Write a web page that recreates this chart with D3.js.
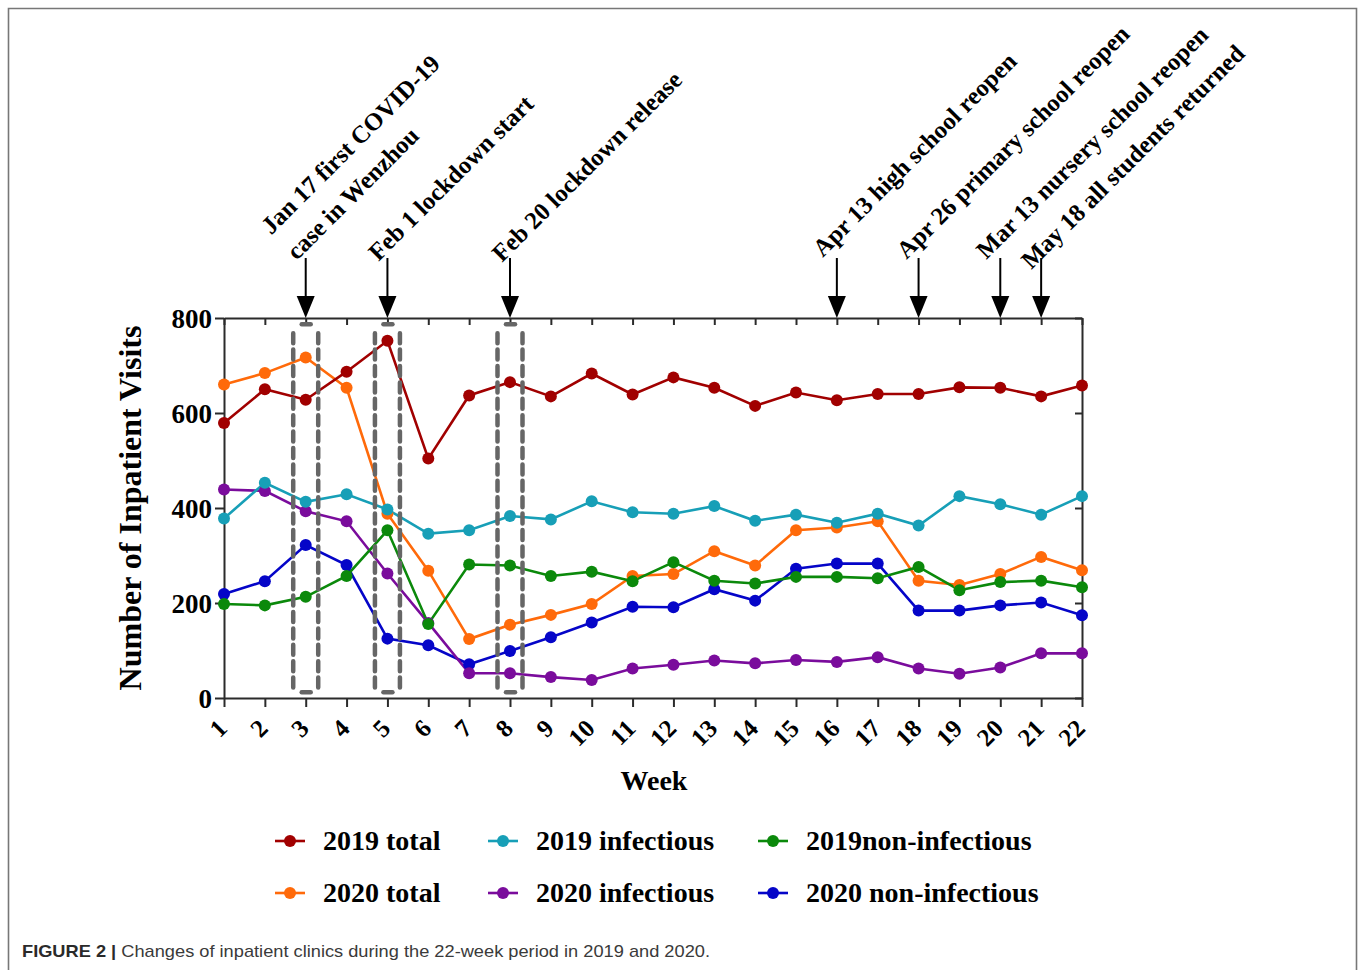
<!DOCTYPE html>
<html>
<head>
<meta charset="utf-8">
<script src="https://cdn.jsdelivr.net/npm/d3@7"></script>
<style>
body { margin: 0; background: #fff; }
svg { display: block; }
</style>
</head>
<body>
<div id="chart"></div>
<script>
// weeks on the x axis
const weeks = [1,2,3,4,5,6,7,8,9,10,11,12,13,14,15,16,17,18,19,20,21,22]
const yTicks = [0, 200, 400, 600, 800]

// inpatient visits per week
const total2019 = [579,650,628,687,752,504,637,665,635,683,639,675,653,615,643,627,640,640,654,653,635,658]
const infectious2019 = [378,453,413,429,397,346,353,383,376,414,391,388,404,373,386,369,388,363,425,408,386,425]
const nonInfectious2019 = [198,195,213,257,353,156,281,279,257,266,246,286,247,241,255,255,252,276,227,244,247,233]
const total2020 = [660,684,717,653,388,268,124,154,175,198,257,261,309,279,353,359,372,247,238,261,297,269]
const infectious2020 = [439,436,393,372,262,158,52,52,44,38,62,70,79,73,80,76,86,62,51,64,94,94]
const nonInfectious2020 = [219,246,322,280,125,111,71,99,128,159,192,191,229,205,272,283,283,184,184,195,201,174]

const seriesNames = ["2019 total", "2019 infectious", "2019non-infectious",
                     "2020 total", "2020 infectious", "2020 non-infectious"]
const seriesValues = [total2019, infectious2019, nonInfectious2019,
                      total2020, infectious2020, nonInfectious2020]
const color = ["#a10000", "#179fb7", "#0b890b", "#ff6a0a", "#7a0c9c", "#0505c8"]

// event markers
const eventWeeks = [3, 5, 8, 16, 18, 20, 21]
const eventLabels = [
  ["Jan 17 first COVID-19", "case in Wenzhou"],
  ["Feb 1 lockdown start"],
  ["Feb 20 lockdown release"],
  ["Apr 13 high school reopen"],
  ["Apr 26 primary school reopen"],
  ["Mar 13 nursery school reopen"],
  ["May 18 all students returned"]
]
// dashed boxes around these weeks
const boxWeeks = [3, 5, 8]
const boxRange = [12, 787]

const width = 1360, height = 970
const serif = "'Liberation Serif', 'Times New Roman', serif"
const axisColor = "#2b2b2b"

const x = d3.scaleLinear().domain([1, 22]).range([224, 1082])
const y = d3.scaleLinear().domain([0, 800]).range([698, 318])

const svg = d3.select("#chart").append("svg")
  .attr("width", width)
  .attr("height", height)
  .attr("viewBox", [0, 0, width, height])

// outer frame of the figure
svg.append("path")
  .attr("d", `M8.5,${height} V8.5 H1356.5 V${height}`)
  .attr("fill", "none")
  .attr("stroke", "#777")
  .attr("stroke-width", 1.6)

// axes
const styleAxis = g => {
  g.select(".domain").attr("stroke", axisColor).attr("stroke-width", 2)
  g.selectAll(".tick line").attr("stroke", axisColor).attr("stroke-width", 2)
}

svg.append("g")
  .attr("transform", `translate(0,${y(800)})`)
  .call(d3.axisTop(x).tickValues(weeks).tickSize(-7).tickSizeOuter(0).tickFormat(""))
  .call(styleAxis)

svg.append("g")
  .attr("transform", `translate(${x(22)},0)`)
  .call(d3.axisRight(y).tickValues(yTicks).tickSize(-7).tickSizeOuter(0).tickFormat(""))
  .call(styleAxis)

const xAxisG = svg.append("g")
  .attr("transform", `translate(0,${y(0)})`)
  .call(d3.axisBottom(x).tickValues(weeks).tickSize(9).tickSizeOuter(0).tickFormat(""))
  .call(styleAxis)

xAxisG.selectAll(".tick").append("text")
  .attr("transform", "translate(4,32) rotate(-45)")
  .attr("text-anchor", "end")
  .attr("fill", "#000")
  .style("font", `bold 25px ${serif}`)
  .text(d => d)

svg.append("g")
  .attr("transform", `translate(${x(1)},0)`)
  .call(d3.axisLeft(y).tickValues(yTicks).tickSize(9).tickSizeOuter(0).tickPadding(3))
  .call(styleAxis)
  .call(g => g.selectAll(".tick text")
    .attr("fill", "#000")
    .attr("dy", "0.34em")
    .style("font", `bold 27px ${serif}`))

// axis titles
svg.append("text")
  .attr("transform", `translate(141,${(y(0) + y(800)) / 2}) rotate(-90)`)
  .attr("text-anchor", "middle")
  .style("font", `bold 32px ${serif}`)
  .text("Number of Inpatient Visits")

svg.append("text")
  .attr("x", (x(1) + x(22)) / 2 + 1)
  .attr("y", 790)
  .attr("text-anchor", "middle")
  .style("font", `bold 28px ${serif}`)
  .text("Week")

// lines and dots, 2020 first so 2019 sits on top
const drawOrder = [5, 3, 4, 2, 1, 0]
const line = d3.line().x((d, i) => x(weeks[i])).y(d => y(d))

drawOrder.forEach(k => {
  svg.append("path")
    .datum(seriesValues[k])
    .attr("fill", "none")
    .attr("stroke", color[k])
    .attr("stroke-width", 2.6)
    .attr("d", line)
})

// dashed boxes: dashed sides, one short dash on top and bottom
const box = svg.append("g").selectAll(".box")
  .data(boxWeeks)
  .enter().append("g")
  .attr("class", "box")
  .attr("stroke", "#666")
  .attr("stroke-width", 4.5)
  .attr("stroke-linecap", "round")

;[-12.5, 12.5].forEach(off => {
  box.append("line")
    .attr("x1", d => x(d) + off).attr("x2", d => x(d) + off)
    .attr("y1", y(boxRange[1]) + 9).attr("y2", y(boxRange[0]) - 3)
    .attr("stroke-dasharray", "10 6.4")
})
;[boxRange[0], boxRange[1]].forEach(v => {
  box.append("line")
    .attr("x1", d => x(d) - 4).attr("x2", d => x(d) + 5)
    .attr("y1", y(v)).attr("y2", y(v))
})

drawOrder.forEach(k => {
  svg.append("g").selectAll("circle")
    .data(seriesValues[k])
    .enter().append("circle")
    .attr("cx", (d, i) => x(weeks[i]))
    .attr("cy", d => y(d))
    .attr("r", 6)
    .attr("fill", color[k])
})

// event arrows and labels
const labelShift = [[-9, 261], [-9, 262], [-8, 263], [-14, 258], [-12, 260], [-14, 260], [-10, 270]]
const ev = svg.append("g").selectAll(".event")
  .data(eventWeeks)
  .enter().append("g")
  .attr("class", "event")

ev.append("line")
  .attr("x1", d => x(d)).attr("x2", d => x(d))
  .attr("y1", 258).attr("y2", y(800) - 16)
  .attr("stroke", "#000")
  .attr("stroke-width", 2)

ev.append("path")
  .attr("d", d => `M${x(d) - 9},${y(800) - 22} L${x(d) + 9},${y(800) - 22} L${x(d)},${y(800)} Z`)
  .attr("fill", "#000")

ev.append("text")
  .attr("transform", (d, i) => `translate(${x(d) + labelShift[i][0]},${labelShift[i][1]}) rotate(-45)`)
  .style("font", `bold 24.7px ${serif}`)
  .selectAll("tspan")
  .data((d, i) => eventLabels[i].map((t, j, arr) => ({t, dy: (j - arr.length + 1) * 36})))
  .enter().append("tspan")
  .attr("x", 0)
  .attr("y", d => d.dy)
  .text(d => d.t)

// legend
const legendCols = [275, 488, 758]
const legendRows = [841, 893]
const entry = svg.append("g").selectAll(".entry")
  .data(seriesNames)
  .enter().append("g")
  .attr("class", "entry")
  .attr("transform", (d, i) => `translate(${legendCols[i % 3]},${legendRows[Math.floor(i / 3)]})`)

entry.append("line")
  .attr("x1", 0).attr("x2", 30)
  .attr("stroke", (d, i) => color[i])
  .attr("stroke-width", 2.6)

entry.append("circle")
  .attr("cx", 15)
  .attr("r", 6)
  .attr("fill", (d, i) => color[i])

entry.append("text")
  .attr("x", 48)
  .attr("y", 9)
  .style("font", `bold 28px ${serif}`)
  .text(d => d)

// caption
const caption = svg.append("text")
  .attr("x", 22)
  .attr("y", 957)
  .attr("textLength", 688)
  .attr("lengthAdjust", "spacingAndGlyphs")
  .style("font", "17px 'Liberation Sans', Arial, sans-serif")
caption.append("tspan")
  .attr("font-weight", "bold")
  .attr("fill", "#2a2a2a")
  .text("FIGURE 2 | ")
caption.append("tspan")
  .attr("fill", "#3a3a3a")
  .text("Changes of inpatient clinics during the 22-week period in 2019 and 2020.")
</script>
</body>
</html>
